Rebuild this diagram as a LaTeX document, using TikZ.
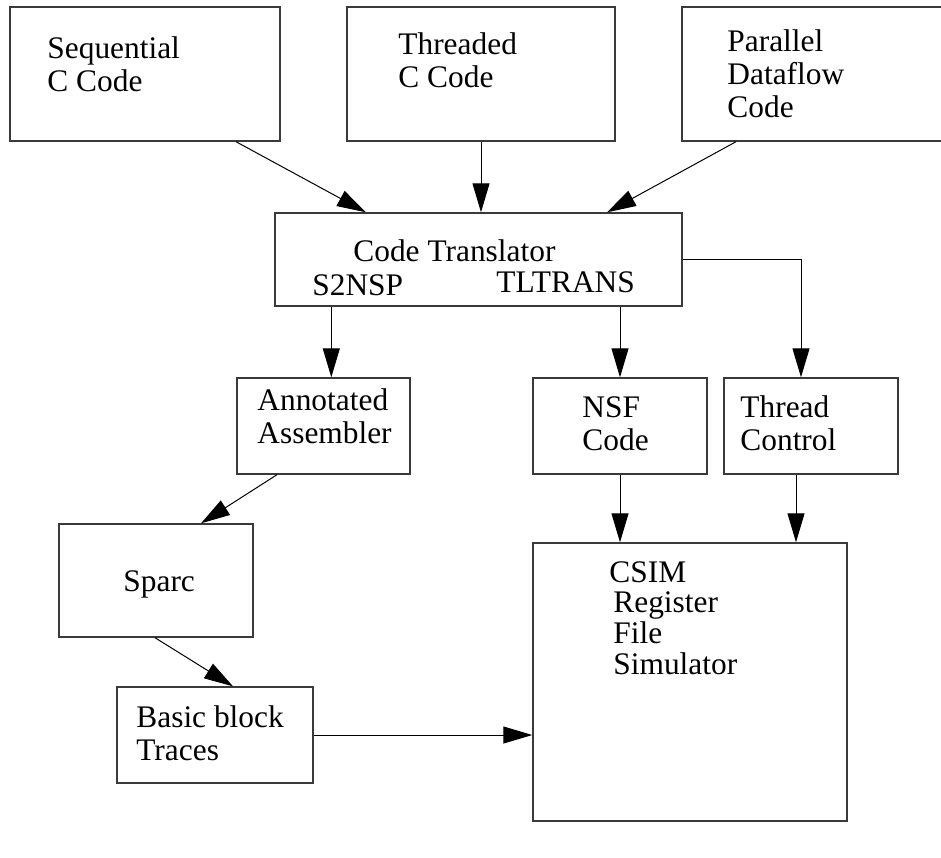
\documentclass[tikz,border=0pt]{standalone}
\usepackage{fontspec}
\setmainfont{Liberation Serif}
\usetikzlibrary{arrows.meta,calc}
\definecolor{boxgray}{HTML}{3A3A3A}
\definecolor{inkblack}{HTML}{000000}

\tikzset{
  blk/.style={draw=boxgray,line width=0.7pt,inner sep=0pt},
  txt/.style={font=\fontsize{15.7}{16.5}\selectfont,align=left,inner sep=0pt,anchor=base west},
  flow/.style={-{Triangle[length=14.5pt,width=8.5pt]},line width=0.5pt,inkblack},
}

\begin{document}
\begin{tikzpicture}[x=0.5pt,y=-0.5pt]
\clip (0,0) rectangle (941,857);

% ===== Source code boxes =====
\node[blk,minimum width=135pt,minimum height=67pt] (seq) at (145,74) {};
\node[blk,minimum width=134pt,minimum height=67pt] (thr) at (481,74) {};
\node[blk,minimum width=159pt,minimum height=67pt] (par) at (841,74) {};
% (base = last line)
\node[txt] (seqtxt) at (47,91) {Sequential\\C Code};
\node[txt] (thrtxt) at (398,87) {Threaded\\C Code};
\node[txt] (partxt) at (727,117) {Parallel\\Dataflow\\Code};

% ===== Translator =====
\node[blk,minimum width=203.5pt,minimum height=46.5pt] (trans) at (478.5,259.5) {};
\node[txt] (transtxt) at (353,261) {Code Translator};
\node[txt] (s2nsp) at (312,295) {S2NSP};
\node[txt] (tltrans) at (496,292) {TLTRANS};

% ===== Middle row =====
\node[blk,minimum width=86.5pt,minimum height=48pt] (ann) at (323.5,426) {};
\node[blk,minimum width=87pt,minimum height=48pt] (nsf) at (620,426) {};
\node[blk,minimum width=87pt,minimum height=48pt] (thc) at (811,426) {};
\node[txt] (anntxt) at (257,443) {Annotated\\Assembler};
\node[txt] (nsftxt) at (582,450) {NSF\\Code};
\node[txt] (thctxt) at (740,450) {Thread\\Control};

% ===== Sparc path and simulator =====
\node[blk,minimum width=97pt,minimum height=56.5pt] (sparc) at (156,580.5) {};
\node[blk,minimum width=98pt,minimum height=48pt] (basic) at (215,735) {};
\node[blk,minimum width=157pt,minimum height=139pt] (csim) at (690,682) {};
\node[txt] (sparctxt) at (123,591) {Sparc};
\node[txt] (basictxt) at (136,760) {Basic block\\Traces};
\node[txt,font=\fontsize{15.7}{15.3}\selectfont] (csimtxt) at (609,674)
  {CSIM\\\hspace*{2pt}Register\\\hspace*{2pt}File\\\hspace*{2pt}Simulator};

% ===== Connectors =====
\draw[flow] ($(seq.south)+(91,0)$) -- ($(trans.north)+(-112.5,0)$);
\draw[flow] (thr.south) -- (thr.south |- trans.north);
\draw[flow] ($(par.south)+(-105,0)$) -- ($(trans.north)+(128.5,0)$);
\draw[flow] ($(trans.south west)+(57,0)$) -- ($(ann.north west)+(95,0)$);
\draw[flow] (nsf.north |- trans.south) -- (nsf.north);
\draw[flow] (trans.east) -| ($(thc.north)+(-10,0)$);
\draw[flow] ($(ann.south)+(-46.5,0)$) -- ($(sparc.north)+(45,0)$);
\draw[flow] ($(sparc.south)+(-1,0)$) -- ($(basic.north)+(18,0)$);
\draw[flow] (nsf.south) -- (nsf.south |- csim.north);
\draw[flow] ($(thc.south)+(-15,0)$) -- ($(thc.south |- csim.north)+(-15,0)$);
\draw[flow] (basic.east) -- (basic.east -| csim.west);

\end{tikzpicture}
\end{document}
